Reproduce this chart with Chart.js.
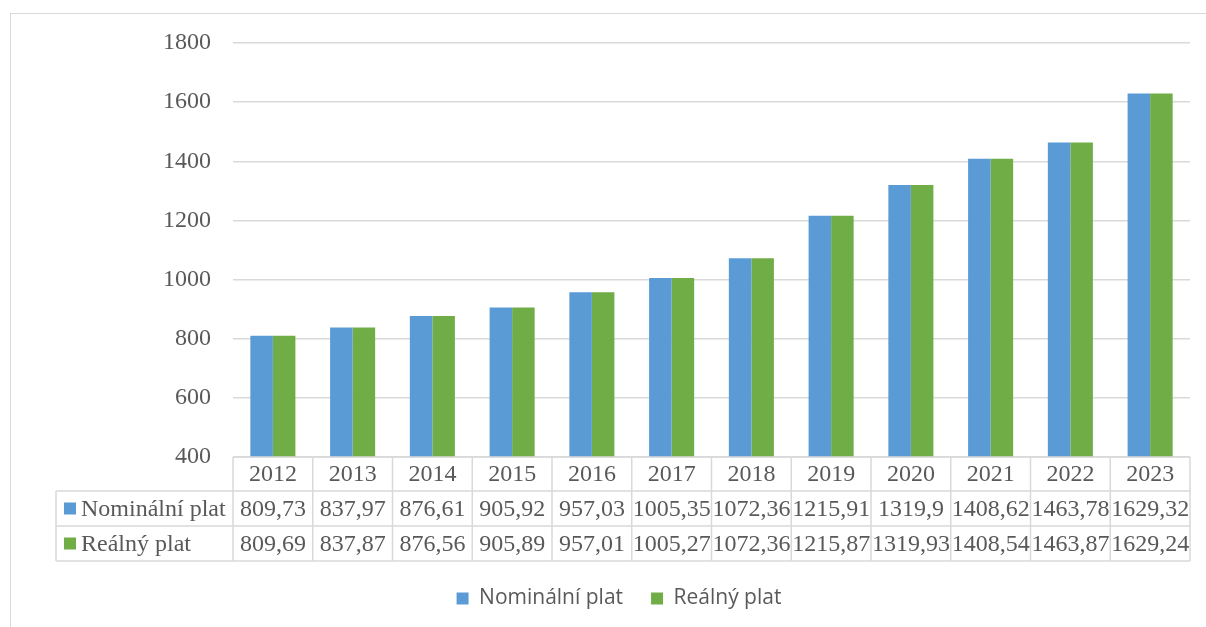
<!DOCTYPE html>
<html>
<head>
<meta charset="utf-8">
<script src="https://cdn.jsdelivr.net/npm/chart.js@4/dist/chart.umd.min.js"></script>
<style>
  html, body { margin: 0; padding: 0; background: #fff; overflow: hidden; }
  #wrap { position: relative; width: 1206px; height: 627px; }
  #frame { position: absolute; left: 10px; top: 13px; width: 1300px; height: 700px; border: 1.5px solid #d9d9d9; }
  #chart { position: absolute; left: 0; top: 0; }
</style>
</head>
<body>
<div id="wrap">
  <div id="frame"></div>
  <canvas id="chart" width="1206" height="627"></canvas>
</div>
<script>
// data
const years = ['2012', '2013', '2014', '2015', '2016', '2017', '2018', '2019', '2020', '2021', '2022', '2023'];
const nominal = [809.73, 837.97, 876.61, 905.92, 957.03, 1005.35, 1072.36, 1215.91, 1319.9, 1408.62, 1463.78, 1629.32];
const real = [809.69, 837.87, 876.56, 905.89, 957.01, 1005.27, 1072.36, 1215.87, 1319.93, 1408.54, 1463.87, 1629.24];
const seriesNames = ['Nominální plat', 'Reálný plat'];
const yMin = 400, yMax = 1800, yStep = 200;

const seriesColors = ['#5B9BD5', '#70AD47'];
const textColor = '#595959';
const lineColor = '#d9d9d9';
const serif = '"Liberation Serif", "Times New Roman", serif';

// header row + 2 data rows under the plot
const rowHeights = [34, 35, 35];
const labelColLeft = 56;

const tablePlugin = {
    id: 'dataTable',
    afterLayout(chart) {
        // legend is centred on the whole (cropped) frame, not on the canvas
        chart.legend.left += 24;
        chart.legend.right += 24;
    },
    afterDraw(chart) {
        const ctx = chart.ctx;
        const area = chart.chartArea;
        const xs = chart.scales.x;
        const half = (area.right - area.left) / years.length / 2;
        const top = area.bottom;
        const r1 = top + rowHeights[0];
        const r2 = r1 + rowHeights[1];
        const r3 = r2 + rowHeights[2];

        ctx.save();
        ctx.strokeStyle = lineColor;
        ctx.lineWidth = 1.5;
        ctx.beginPath();
        // horizontal lines
        ctx.moveTo(area.left, top); ctx.lineTo(area.right, top);
        [r1, r2, r3].forEach(y => { ctx.moveTo(labelColLeft, y); ctx.lineTo(area.right, y); });
        // vertical lines
        ctx.moveTo(labelColLeft, r1); ctx.lineTo(labelColLeft, r3);
        ctx.moveTo(area.left, top); ctx.lineTo(area.left, r3);
        years.forEach((y, i) => {
            const xr = xs.getPixelForValue(i) + half;
            ctx.moveTo(xr, top); ctx.lineTo(xr, r3);
        });
        ctx.stroke();

        ctx.fillStyle = textColor;
        ctx.font = '24px ' + serif;
        ctx.textAlign = 'center';
        ctx.textBaseline = 'middle';
        const rows = [nominal, real];
        years.forEach((yr, i) => {
            const cx = xs.getPixelForValue(i);
            ctx.fillText(yr, cx, (top + r1) / 2 + 1);
            rows.forEach((vals, k) => {
                const yc = k == 0 ? (r1 + r2) / 2 + 1 : (r2 + r3) / 2 + 1;
                ctx.fillText(String(vals[i]).replace('.', ','), cx, yc);
            });
        });

        // row headers
        ctx.textAlign = 'left';
        seriesNames.forEach((name, k) => {
            const yc = k == 0 ? (r1 + r2) / 2 : (r2 + r3) / 2;
            ctx.fillStyle = seriesColors[k];
            ctx.fillRect(labelColLeft + 8, yc - 6, 12, 12);
            ctx.fillStyle = textColor;
            ctx.fillText(name, labelColLeft + 25, yc + 1);
        });
        ctx.restore();
    }
};

new Chart(document.getElementById('chart'), {
    type: 'bar',
    data: {
        labels: years,
        datasets: [
            { label: seriesNames[0], data: nominal, backgroundColor: seriesColors[0], borderWidth: 0 },
            { label: seriesNames[1], data: real, backgroundColor: seriesColors[1], borderWidth: 0 }
        ]
    },
    options: {
        responsive: false,
        animation: false,
        devicePixelRatio: 1,
        layout: { padding: { top: 43, right: 16, left: 0, bottom: 8 } },
        datasets: { bar: { categoryPercentage: 0.565, barPercentage: 1 } },
        scales: {
            x: {
                grid: { display: false },
                border: { display: false },
                ticks: { display: false },
                afterFit: s => { s.height = 103; }
            },
            y: {
                min: yMin,
                max: yMax,
                ticks: {
                    stepSize: yStep,
                    padding: 22,
                    color: textColor,
                    font: { family: serif, size: 24 },
                    callback: v => String(v)
                },
                grid: { color: lineColor, lineWidth: 1.5, drawTicks: false },
                border: { display: false },
                afterFit: s => { s.width = 233; }
            }
        },
        plugins: {
            legend: {
                position: 'bottom',
                labels: {
                    boxWidth: 12,
                    boxHeight: 12,
                    padding: 28,
                    color: textColor,
                    font: { family: '"Open Sans", sans-serif', size: 21 }
                }
            },
            tooltip: { enabled: false }
        }
    },
    plugins: [tablePlugin]
});
</script>
</body>
</html>
